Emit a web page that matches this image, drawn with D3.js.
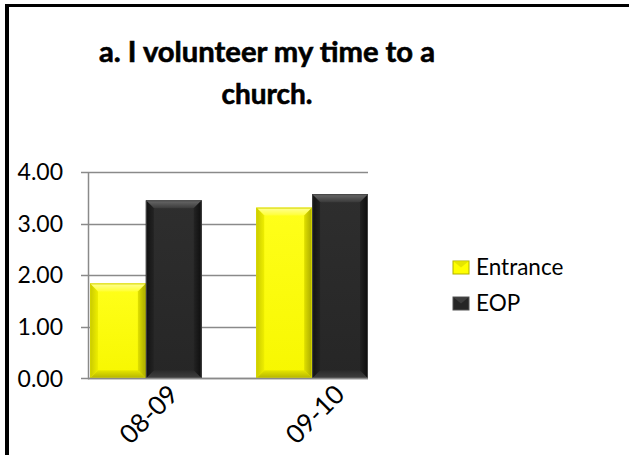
<!DOCTYPE html>
<html><head><meta charset="utf-8">
<script src="https://cdn.jsdelivr.net/npm/d3@7"></script>
<style>html,body{margin:0;padding:0;background:#fff;overflow:hidden}</style>
</head><body>
<svg id="c" width="629" height="455"></svg>
<script>
const categories = ["08-09", "09-10"];
const seriesNames = ["Entrance", "EOP"];
const entrance = [1.84, 3.31];
const eop = [3.45, 3.57];
const yTicks = [0, 1, 2, 3, 4];
const titleLines = ["a. I volunteer my time to a", "church."];

const svg = d3.select("#c");
const font = "Lato, 'DejaVu Sans', sans-serif";

// frame (top + left edges visible)
svg.append("line").attr("x1",7).attr("x2",629).attr("y1",5.5).attr("y2",5.5).attr("stroke","#000").attr("stroke-width",3);
svg.append("line").attr("x1",7).attr("x2",7).attr("y1",4).attr("y2",455).attr("stroke","#000").attr("stroke-width",4);

// title
const tw = [336, 91];
svg.selectAll("text.title").data(titleLines).join("text")
  .attr("class","title")
  .attr("x",267).attr("y",(d,i)=>62+i*41.5)
  .attr("text-anchor","middle")
  .attr("font-family",font).attr("font-weight","bold").attr("font-size",28.5)
  .attr("textLength",(d,i)=>tw[i]).attr("lengthAdjust","spacingAndGlyphs")
  .attr("stroke","#000").attr("stroke-width",0.6)
  .attr("fill","#000").text(d=>d);

const y = d3.scaleLinear().domain([0,4]).range([378.3,172]);
const x0 = d3.scaleBand().domain(categories).range([90,368]).paddingInner(0.328).paddingOuter(0);
const x1 = d3.scaleBand().domain(seriesNames).range([0,x0.bandwidth()]).padding(0);

// gridlines
const grid = svg.append("g");
grid.selectAll("line").data(yTicks).join("line")
  .attr("x1",81).attr("x2",368)
  .attr("y1",d=>Math.round(y(d))+0.5).attr("y2",d=>Math.round(y(d))+0.5)
  .attr("stroke","#8a8a8a").attr("stroke-width",1.5);
// y axis line
svg.append("line").attr("x1",88.5).attr("x2",88.5).attr("y1",y(4)).attr("y2",y(0)+1)
  .attr("stroke","#8a8a8a").attr("stroke-width",1.5);

// y labels
svg.selectAll("text.yt").data(yTicks).join("text").attr("class","yt")
  .attr("x",63).attr("y",d=>y(d)).attr("dy","0.36em")
  .attr("text-anchor","end").attr("font-family",font).attr("font-size",23)
  .attr("fill","#000").text(d=>d.toFixed(2));

// gradients
const defs = svg.append("defs");
function lg(id, stops, vertical){
  const g = defs.append("linearGradient").attr("id",id)
    .attr("x1",0).attr("y1",0).attr("x2",vertical?0:1).attr("y2",vertical?1:0);
  stops.forEach(s=>g.append("stop").attr("offset",s[0]).attr("stop-color",s[1]));
}
lg("yMain",[[0,"#ffff1a"],[1,"#f7f700"]],true);
lg("yTop",[[0,"#ffff99"],[1,"#ffff33"]],true);
lg("yBot",[[0,"#e6e600"],[1,"#b3b300"]],true);
lg("yL",[[0,"#c9c900"],[1,"#eeee00"]],false);
lg("yR",[[0,"#e0e000"],[1,"#a8a800"]],false);
lg("kMain",[[0,"#2e2e2e"],[1,"#262626"]],true);
lg("kTop",[[0,"#6a6a6a"],[1,"#3a3a3a"]],true);
lg("kBot",[[0,"#2a2a2a"],[1,"#404040"]],true);
lg("kL",[[0,"#111"],[1,"#232323"]],false);
lg("kR",[[0,"#232323"],[1,"#0d0d0d"]],false);

const rows = [];
categories.forEach((c,i)=>{
  rows.push({cat:c, s:"Entrance", v:entrance[i], k:"y"});
  rows.push({cat:c, s:"EOP", v:eop[i], k:"k"});
});

const b = 8;
const bars = svg.append("g").selectAll("g").data(rows).join("g");
bars.each(function(d){
  const g = d3.select(this);
  const L = x0(d.cat)+x1(d.s), W = x1.bandwidth();
  const T = y(d.v), B = y(0);
  const R = L+W;
  g.append("rect").attr("x",L).attr("y",T).attr("width",W).attr("height",B-T).attr("fill",`url(#${d.k}Main)`);
  const poly = (pts,f)=>g.append("polygon").attr("points",pts.map(p=>p.join(",")).join(" ")).attr("fill",f);
  poly([[L,T],[R,T],[R-b,T+b],[L+b,T+b]],`url(#${d.k}Top)`);
  poly([[L,B],[R,B],[R-b,B-b],[L+b,B-b]],`url(#${d.k}Bot)`);
  poly([[L,T],[L+b,T+b],[L+b,B-b],[L,B]],`url(#${d.k}L)`);
  poly([[R,T],[R-b,T+b],[R-b,B-b],[R,B]],`url(#${d.k}R)`);
  g.append("rect").attr("x",L+0.5).attr("y",T+0.5).attr("width",W-1).attr("height",B-T-1)
    .attr("fill","none").attr("stroke",d.k==="y"?"#d4d400":"#444").attr("stroke-width",1);
});

// x axis baseline
svg.append("line").attr("x1",88).attr("x2",368).attr("y1",Math.round(y(0))+0.5).attr("y2",Math.round(y(0))+0.5)
  .attr("stroke","#8a8a8a").attr("stroke-width",1.5);

// x labels
svg.selectAll("text.xt").data(categories).join("text").attr("class","xt")
  .attr("transform",d=>`translate(${x0(d)+x0.bandwidth()/2+34},396) rotate(-45)`)
  .attr("text-anchor","end").attr("font-family",font).attr("font-size",26)
  .attr("fill","#000").text(d=>d);

// legend
const leg = svg.append("g").selectAll("g").data(seriesNames).join("g")
  .attr("transform",(d,i)=>`translate(453,${261+i*36})`);
leg.append("rect").attr("width",16).attr("height",13)
  .attr("fill",(d,i)=>i===0?"#ffff00":"#262626")
  .attr("stroke",(d,i)=>i===0?"#b0b000":"#555").attr("stroke-width",1);
leg.append("polygon").attr("points","0,0 16,0 8,6.5").attr("fill",(d,i)=>i===0?"#dede00":"#444").attr("opacity",0.8);
leg.append("text").attr("x",23).attr("y",13.8).attr("font-family",font).attr("font-size",22.5)
  .attr("fill","#000").text(d=>d);
</script>
</body></html>
